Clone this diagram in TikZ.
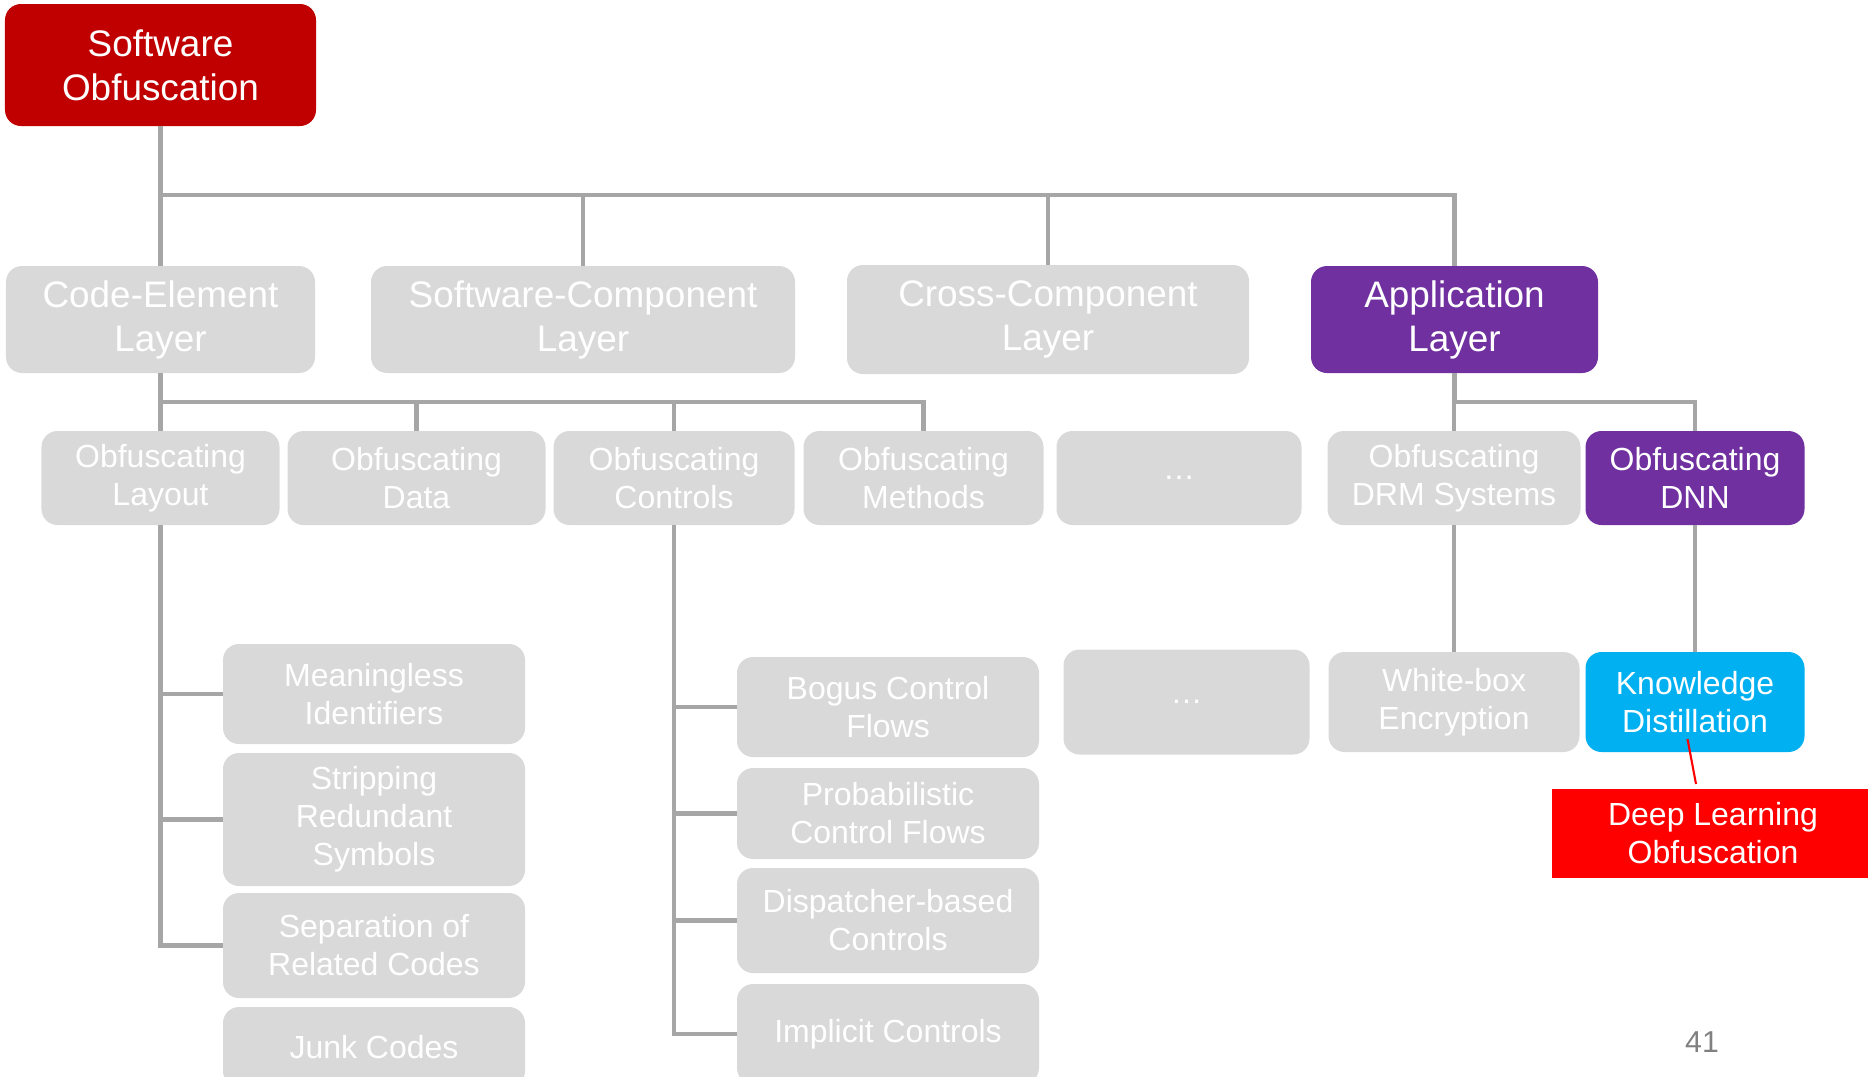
\documentclass[tikz,border=0pt]{standalone}
\usepackage{fontspec}
\setmainfont{Liberation Sans}
\usepackage{tikz}
\usetikzlibrary{positioning,calc}
\definecolor{rootred}{RGB}{192,0,0}
\definecolor{boxgray}{RGB}{217,217,217}
\definecolor{linkgray}{RGB}{166,166,166}
\definecolor{apppurple}{RGB}{112,48,160}
\definecolor{kdblue}{RGB}{0,176,240}
\definecolor{dlored}{RGB}{255,0,0}

\begin{document}
\begin{tikzpicture}[node distance=0.1cm,
    big/.style={font=\fontsize{10.5}{12.5}\selectfont},
    small/.style={font=\fontsize{9.1}{10.8}\selectfont},
    box/.style={rectangle, rounded corners=0.16cm, fill=boxgray, text=white, align=center, inner sep=0pt, outer sep=0pt},
    layer/.style={box, big, minimum height=1.07cm},
    tech/.style={box, small, minimum height=0.94cm},
    leaf/.style={box, small, minimum width=3.02cm},
    link/.style={draw=linkgray, line width=1.3pt}
]
    \useasboundingbox (0,0) rectangle (18.68,-10.76);

    \node[box, big, fill=rootred, minimum width=3.11cm, minimum height=1.22cm] (root) at (1.605,-0.65) {Software\\Obfuscation};

    % layers
    \node[layer, minimum width=3.09cm, below=1.40cm of root] (codeel) {Code-Element\\Layer};
    \node[layer, minimum width=4.24cm, right=0.56cm of codeel] (swcomp) {Software-Component\\Layer};
    \node[layer, minimum width=4.02cm, minimum height=1.09cm, right=0.52cm of swcomp] (cross) {Cross-Component\\Layer};
    \node[layer, minimum width=2.87cm, fill=apppurple, right=0.62cm of cross] (app) {Application\\Layer};

    % techniques
    \node[tech, minimum width=2.38cm, below=0.58cm of codeel] (layout) {Obfuscating\\Layout};
    \node[tech, minimum width=2.58cm, right=0.08cm of layout] (data) {Obfuscating\\Data};
    \node[tech, minimum width=2.41cm, right=0.08cm of data] (controls) {Obfuscating\\Controls};
    \node[tech, minimum width=2.40cm, right=0.09cm of controls] (methods) {Obfuscating\\Methods};
    \node[tech, minimum width=2.45cm, right=0.13cm of methods] (dots1) {\dots};
    \node[tech, minimum width=2.53cm, right=0.26cm of dots1] (drm) {Obfuscating\\DRM Systems};
    \node[tech, minimum width=2.19cm, fill=apppurple, right=0.05cm of drm] (dnn) {Obfuscating\\DNN};

    % layout tricks
    \node[leaf, minimum height=1.00cm] (meaningless) at (3.74,-6.94) {Meaningless\\Identifiers};
    \node[leaf, minimum height=1.33cm, below=0.09cm of meaningless] (stripping) {Stripping\\Redundant\\Symbols};
    \node[leaf, minimum height=1.05cm, below=0.07cm of stripping] (separation) {Separation of\\Related Codes};
    \node[leaf, minimum height=0.80cm, below=0.09cm of separation] (junk) {Junk Codes};

    % control tricks
    \node[leaf, minimum height=1.00cm] (bogus) at (8.88,-7.07) {Bogus Control\\Flows};
    \node[leaf, minimum height=0.91cm, below=0.11cm of bogus] (probabilistic) {Probabilistic\\Control Flows};
    \node[leaf, minimum height=1.05cm, below=0.09cm of probabilistic] (dispatcher) {Dispatcher-based\\Controls};
    \node[leaf, minimum height=1.00cm, below=0.11cm of dispatcher] (implicit) {Implicit Controls};

    \node[box, small, minimum width=2.51cm, minimum height=1.00cm, below=1.27cm of drm] (whitebox) {White-box\\Encryption};
    \node[box, small, minimum width=2.19cm, minimum height=1.00cm, fill=kdblue, below=1.27cm of dnn] (knowledge) {Knowledge\\Distillation};
    \node[box, small, minimum width=2.46cm, minimum height=1.05cm, left=0.19cm of whitebox] (dots2) {\dots};

    \node[box, small, rounded corners=0pt, fill=dlored, minimum width=3.22cm, minimum height=0.89cm] (deepl) at (17.13,-8.335) {Deep Learning\\Obfuscation};

    \node[text=gray, font=\fontsize{8.6}{10}\selectfont] (pagenum) at (17.02,-10.42) {41};

    \foreach \n in {codeel,swcomp,cross,app}
        \draw[link] (root.south) -- ++(0,-0.69) -| (\n.north);
    \foreach \n in {layout,data,controls,methods}
        \draw[link] (codeel.south) -- ++(0,-0.29) -| (\n.north);
    \foreach \n in {drm,dnn}
        \draw[link] (app.south) -- ++(0,-0.29) -| (\n.north);
    \foreach \n in {meaningless,stripping,separation}
        \draw[link] (layout.south) |- (\n.west);
    \foreach \n in {bogus,probabilistic,dispatcher,implicit}
        \draw[link] (controls.south) |- (\n.west);
    \draw[link] (drm) -- (whitebox);
    \draw[link] (dnn) -- (knowledge);

    \draw[dlored, line width=0.6pt] ($(knowledge.south)+(-0.075,0.13)$) -- ($(deepl.north)+(-0.17,0.05)$);

\end{tikzpicture}
\end{document}
